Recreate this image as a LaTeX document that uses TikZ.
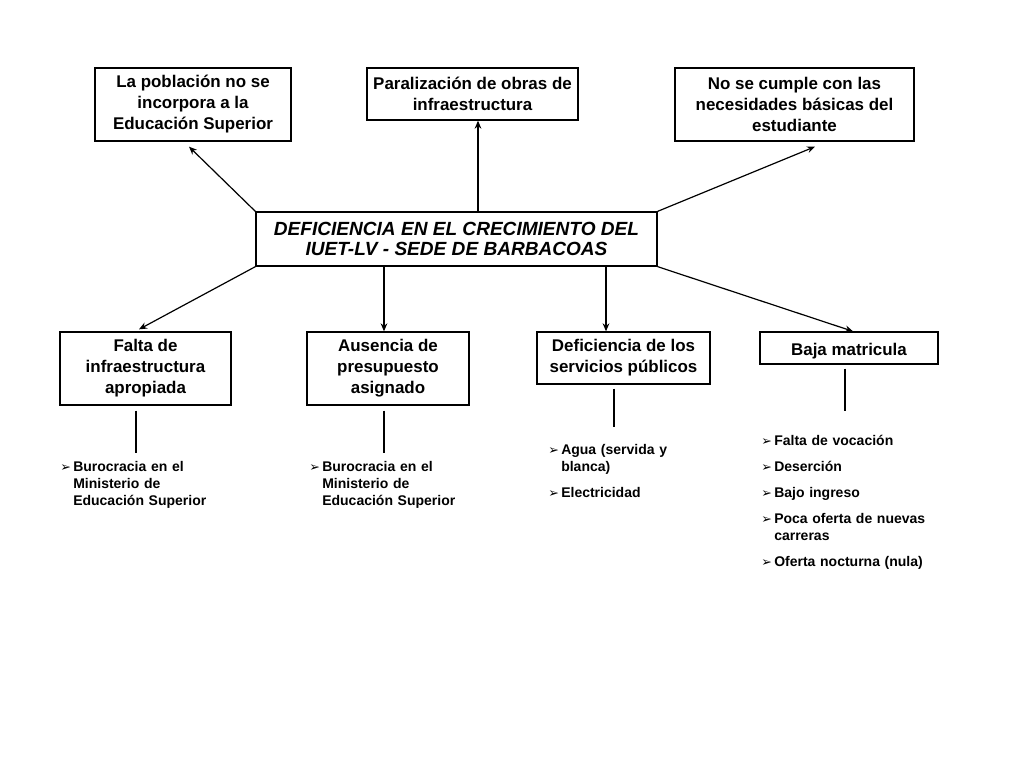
\documentclass[tikz,border=0pt]{standalone}
\usepackage{fontspec}
\setmainfont{Liberation Sans}
\newfontfamily\dejavu{DejaVu Sans}
\usetikzlibrary{arrows.meta}

\newcommand{\bul}{{\dejavu\fontsize{9.5pt}{9.5pt}\selectfont ➢}}
\newcommand{\litem}[1]{\par\hangindent=9.75pt\hangafter=1\noindent\makebox[9.75pt][l]{\bul}#1\par}

\tikzset{
  caja/.style 2 args={draw, line width=1pt, align=center, inner sep=0pt,
    minimum width=#1*0.75pt, minimum height=#2*0.75pt,
    font=\fontsize{12.7pt}{15.75pt}\selectfont\bfseries,
    execute at begin node=\rule{0pt}{14.5pt}},
  central/.style={caja={401}{54}, font=\fontsize{14.3pt}{15pt}\selectfont\bfseries\itshape,
    execute at begin node={}},
  lista/.style={anchor=north west, inner sep=0pt, text width=150pt,
    font=\fontsize{10.5pt}{12.75pt}\selectfont\bfseries\raggedright\setlength{\parskip}{6.75pt}},
  flecha/.style={-{Stealth[length=6pt,width=5pt]}, line width=0.9pt},
  linea/.style={line width=0.8pt},
}

\begin{document}
\begin{tikzpicture}[x=0.75pt,y=-0.75pt]
    % fondo
    \useasboundingbox[fill=white] (0,0) rectangle (1024,768);

    % Problema central
    \node[central] (centro) at (456.5,239) {DEFICIENCIA EN EL CRECIMIENTO DEL\\IUET-LV - SEDE DE BARBACOAS};

    % Efectos
    \node[caja={196}{73}] (efecto1) at (193,104.5) {La población no se\\incorpora a la\\Educación Superior};
    \node[caja={211}{52}] (efecto2) at (472.5,94) {Paralización de obras de\\infraestructura};
    \node[caja={239}{73}] (efecto3) at (794.5,104.5) {No se cumple con las\\necesidades básicas del\\estudiante};

    % Causas
    \node[caja={171}{73}] (causa1) at (145.5,368.5) {Falta de\\infraestructura\\apropiada};
    \node[caja={162}{73}] (causa2) at (388,368.5) {Ausencia de\\presupuesto\\asignado};
    \node[caja={173}{52}] (causa3) at (623.5,358) {Deficiencia de los\\servicios públicos};
    \node[caja={178}{32}] (causa4) at (849,348) {Baja matricula};

    % Flechas hacia los efectos
    \draw[flecha] (centro.north west) -- ([shift={(-4,5)}]efecto1.south);
    \draw[flecha] ([shift={(21.5,0)}]centro.north) -- ([shift={(5.5,0)}]efecto2.south);
    \draw[flecha] (centro.north east) -- ([shift={(20.5,5)}]efecto3.south);

    % Flechas hacia las causas
    \draw[flecha] (centro.south west) -- ([shift={(-6.5,-2)}]causa1.north);
    \draw[flecha] ([shift={(-4,0)}]causa2.north |- centro.south) -- ([shift={(-4,0)}]causa2.north);
    \draw[flecha] ([shift={(-17.5,0)}]causa3.north |- centro.south) -- ([shift={(-17.5,0)}]causa3.north);
    \draw[flecha] (centro.south east) -- ([shift={(4,0)}]causa4.north);

    % Lineas bajo las causas
    \draw[linea] ([shift={(-9.5,5)}]causa1.south) -- ([shift={(-9.5,47)}]causa1.south);
    \draw[linea] ([shift={(-4,5)}]causa2.south) -- ([shift={(-4,47)}]causa2.south);
    \draw[linea] ([shift={(-9.5,4)}]causa3.south) -- ([shift={(-9.5,42)}]causa3.south);
    \draw[linea] ([shift={(-4,4)}]causa4.south) -- ([shift={(-4,46)}]causa4.south);

    % Listas
    \node[lista] (lista1) at (60,445) {\litem{Burocracia en el\newline Ministerio de\newline Educación Superior}};
    \node[lista] (lista2) at (309,445) {\litem{Burocracia en el\newline Ministerio de\newline Educación Superior}};
    \node[lista] (lista3) at (548,428) {\litem{Agua (servida y\newline blanca)}\litem{Electricidad}};
    \node[lista] (lista4) at (761,419) {\litem{Falta de vocación}\litem{Deserción}\litem{Bajo ingreso}%
        \litem{Poca oferta de nuevas\newline carreras}\litem{Oferta nocturna (nula)}};
\end{tikzpicture}
\end{document}
